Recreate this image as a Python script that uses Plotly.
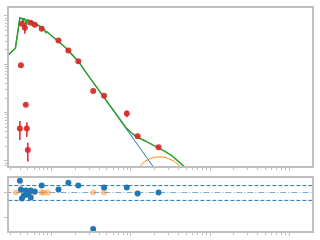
import plotly.graph_objects as go

# ---- photometry (wavelength in micron, lambda*F_lambda in erg/s/cm^2) ----
phot_wl = [0.398, 0.487, 0.501, 0.41, 0.473, 0.422, 0.46, 0.546, 0.613, 0.75,
           1.223, 1.63, 2.175, 3.35, 4.6, 8.91, 12.2, 22.4]
phot_flux = [4.71e-12, 4.71e-12, 1.68e-12, 9.54e-11, 1.46e-11, 6.87e-10, 5.69e-10,
             7.19e-10, 6.55e-10, 5.43e-10, 3.09e-10, 1.93e-10, 1.15e-10, 2.81e-11,
             2.22e-11, 9.55e-12, 3.24e-12, 1.93e-12]
phot_err = [2.0e-12, 1.6e-12, 0.7e-12, 2.5e-12, 0.5e-12, 2.0e-11, 1.4e-10,
            2.0e-11, 2.0e-11, 1.5e-11, 8.0e-12, 5.0e-12, 3.0e-12, 8.0e-13,
            6.0e-13, 1.5e-12, 1.0e-13, 1.0e-13]

# ---- stellar atmosphere model ----
star_wl = [0.29, 0.35, 0.398, 0.42, 0.43, 0.434, 0.44, 0.455, 0.486, 0.49, 0.52,
           0.56, 0.62, 0.656, 0.66, 0.75, 0.82, 0.85, 0.87, 0.9, 0.95, 1.0, 1.1,
           1.25, 1.5, 1.8, 2.2, 3.0, 4.0, 6.0, 8.0, 12.0, 18.0, 22.0]
star_flux = [1.60e-10, 2.17e-10, 9.10e-10, 8.89e-10, 8.69e-10, 7.19e-10, 8.69e-10,
             8.69e-10, 6.55e-10, 8.28e-10, 8.09e-10, 7.72e-10, 6.87e-10, 6.25e-10,
             6.55e-10, 5.82e-10, 5.06e-10, 4.50e-10, 4.71e-10, 4.50e-10, 4.09e-10,
             3.91e-10, 3.47e-10, 2.94e-10, 2.22e-10, 1.60e-10, 1.12e-10, 5.43e-11,
             2.81e-11, 1.12e-11, 5.82e-12, 2.28e-12, 8.89e-13, 5.56e-13]

# ---- dust (infrared excess) component ----
dust_wl = [12.6, 13.3, 15.4, 17.8, 20.5, 23.0, 25.9, 29.9, 34.5, 38.7, 42.2, 46.0]
dust_flux = [6.55e-13, 7.91e-13, 1.00e-12, 1.12e-12, 1.20e-12, 1.21e-12, 1.20e-12,
             1.12e-12, 1.00e-12, 8.69e-13, 7.55e-13, 6.25e-13]

# ---- total model beyond the stellar-dominated part ----
total_tail_wl = [7.5, 8.66, 10.0, 12.2, 15.4, 17.8, 22.4, 27.4, 33.5, 39.8, 48.7, 56.2]
total_tail_flux = [6.87e-12, 4.94e-12, 3.91e-12, 3.09e-12, 2.56e-12, 2.28e-12,
                   1.89e-12, 1.56e-12, 1.26e-12, 1.00e-12, 7.55e-13, 5.97e-13]

# ---- residuals ----
res_wl = [0.398, 0.41, 0.422, 0.447, 0.473, 0.487, 0.516, 0.546, 0.546, 0.613, 0.75,
          1.223, 1.63, 2.175, 3.35, 4.6, 8.91, 12.2, 22.4]
res_val = [0.48, 0.12, -0.24, -0.12, 0.08, -0.08, 0.0, 0.08, -0.2, 0.04, 0.28,
           0.12, 0.4, 0.28, -1.48, 0.2, 0.2, -0.04, 0.0]
excl_wl = [0.355, 0.46, 0.48, 0.501, 0.52, 0.613, 0.75, 0.794, 0.891, 3.35, 4.6]
excl_val = [0.0] * len(excl_wl)
band_hi = 0.28
band_lo = -0.32

RED = "#d62728"
BLUE = "#1f77b4"
ORANGE = "#ff7f0e"
GREEN = "#2ca02c"
GRAY = "#c0c0c0"

n_star = sum(1 for w in star_wl if w <= 6.0)
total_wl = star_wl[:n_star] + total_tail_wl
total_flux = star_flux[:n_star] + total_tail_flux

fig = go.Figure()

fig.add_trace(go.Scatter(x=star_wl, y=star_flux, mode="lines",
                         line=dict(color=BLUE, width=1), xaxis="x", yaxis="y"))
fig.add_trace(go.Scatter(x=dust_wl, y=dust_flux, mode="lines", line_shape="spline",
                         line=dict(color=ORANGE, width=1), xaxis="x", yaxis="y"))
fig.add_trace(go.Scatter(x=total_wl, y=total_flux, mode="lines",
                         line=dict(color=GREEN, width=1.5), xaxis="x", yaxis="y"))
fig.add_trace(go.Scatter(x=phot_wl, y=phot_flux, mode="markers",
                         marker=dict(color=RED, size=6, opacity=0.9),
                         error_y=dict(type="data", array=phot_err, color=RED,
                                      thickness=1.5, width=0),
                         xaxis="x", yaxis="y"))

xr = [min(star_wl), 2000.0]
for yv, dash, op in [(band_hi, "4px,2px", 1.0), (band_lo, "4px,2px", 1.0), (0.0, "6px,2px,1px,2px", 0.6)]:
    fig.add_trace(go.Scatter(x=[0.1, 5000.0], y=[yv, yv], mode="lines",
                             line=dict(color=BLUE, width=1, dash=dash), opacity=op,
                             xaxis="x2", yaxis="y2"))
fig.add_trace(go.Scatter(x=excl_wl, y=excl_val, mode="markers",
                         marker=dict(color=ORANGE, size=6, opacity=0.45),
                         xaxis="x2", yaxis="y2"))
fig.add_trace(go.Scatter(x=res_wl, y=res_val, mode="markers",
                         marker=dict(color=BLUE, size=6),
                         xaxis="x2", yaxis="y2"))

minor_x = [m * 10.0 ** d for d in range(-1, 4) for m in range(2, 10)]
major_x = [0.1, 1, 10, 100, 1000]
minor_y = [m * 10.0 ** d for d in range(-13, -8) for m in range(2, 10)]
major_y = [1e-12, 1e-11, 1e-10, 1e-9]

xcommon = dict(type="log", range=[-0.5375, 3.2875], showline=True, mirror=True,
               linecolor=GRAY, linewidth=2, showgrid=False, zeroline=False,
               showticklabels=False, ticks="outside", ticklen=3, tickcolor=GRAY,
               tickmode="array", tickvals=major_x,
               minor=dict(tickmode="array", tickvals=minor_x, ticks="outside",
                          ticklen=2, tickcolor=GRAY, showgrid=False))

fig.update_layout(
    width=320, height=240, margin=dict(l=7, r=7, t=6, b=8),
    paper_bgcolor="white", plot_bgcolor="white", showlegend=False,
    xaxis=dict(domain=[0, 1], anchor="y", **xcommon),
    xaxis2=dict(domain=[0, 1], anchor="y2", matches="x", **xcommon),
    yaxis=dict(domain=[0.292, 1], anchor="x", type="log", range=[-12.102, -8.837],
               showline=True, mirror=True, linecolor=GRAY, linewidth=2,
               showgrid=False, zeroline=False, showticklabels=False,
               ticks="outside", ticklen=3, tickcolor=GRAY,
               tickmode="array", tickvals=major_y,
               minor=dict(tickmode="array", tickvals=minor_y, ticks="outside",
                          ticklen=2, tickcolor=GRAY, showgrid=False)),
    yaxis2=dict(domain=[0, 0.239], anchor="x2", range=[-1.56, 0.6],
                showline=True, mirror=True, linecolor=GRAY, linewidth=2,
                showgrid=False, zeroline=False, showticklabels=False,
                ticks="outside", ticklen=3, tickcolor=GRAY,
                tickmode="array", tickvals=[-1, 0]),
)

fig.write_html("out.html")
